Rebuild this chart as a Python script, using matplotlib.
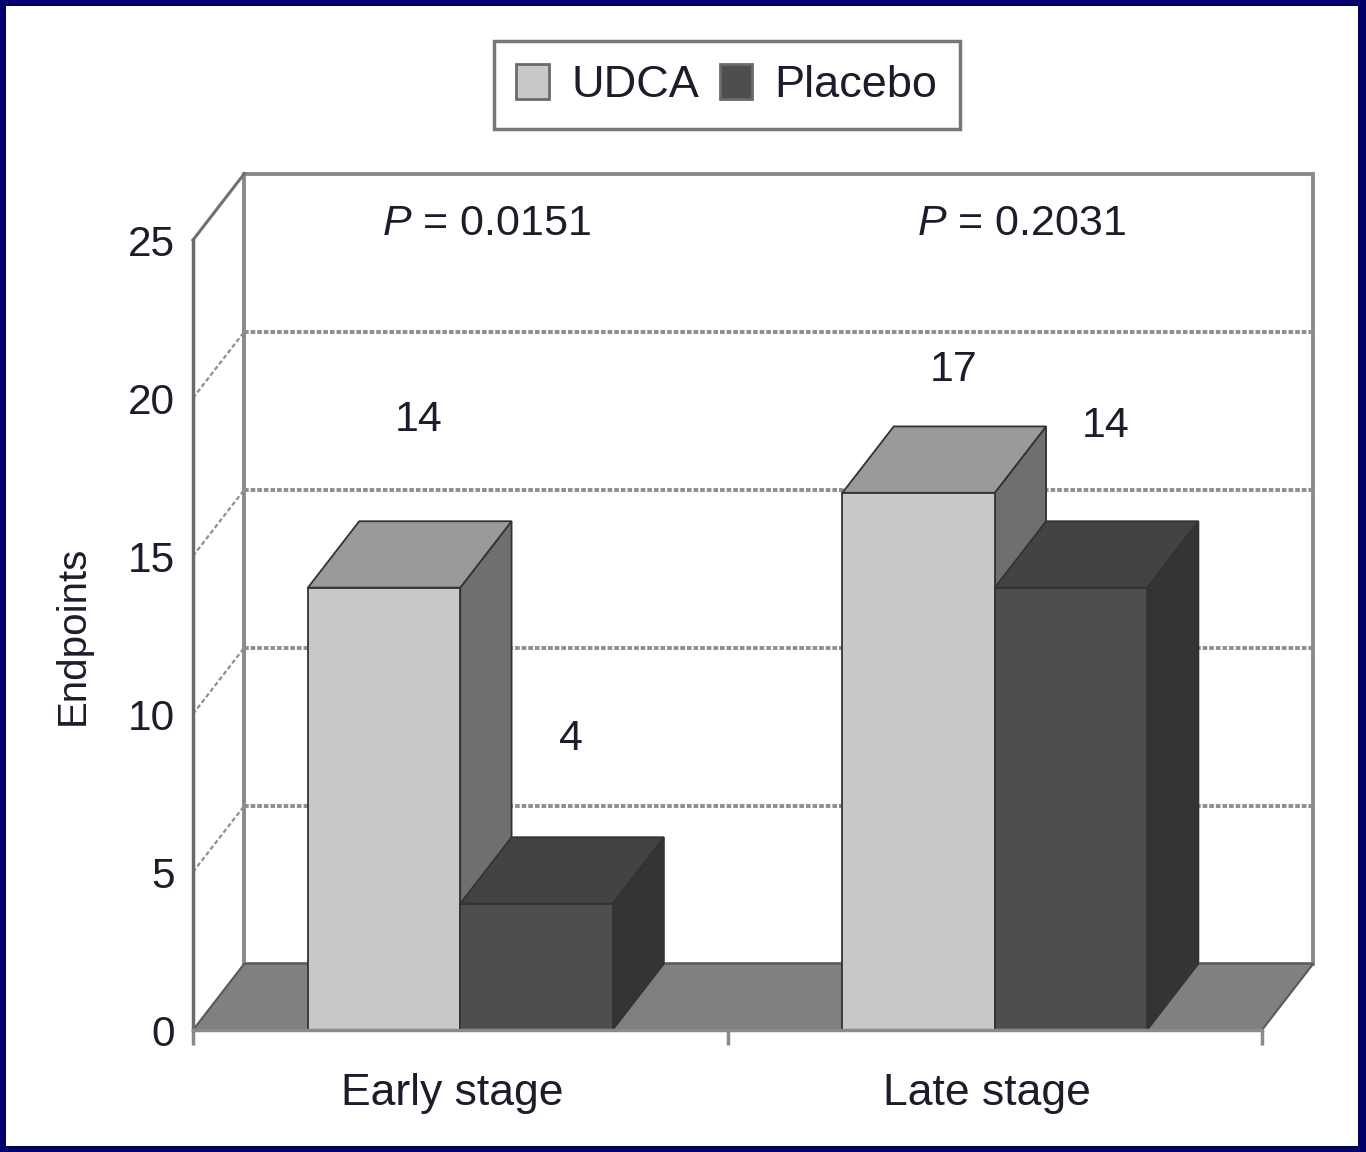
import numpy as np
import matplotlib
matplotlib.use("Agg")
import matplotlib.pyplot as plt
from matplotlib.patches import Polygon, Rectangle, Patch

plt.rcParams['font.family'] = ['Liberation Sans', 'DejaVu Sans']
plt.rcParams['mathtext.fontset'] = 'custom'
plt.rcParams['mathtext.it'] = 'Liberation Sans:italic'
plt.rcParams['mathtext.rm'] = 'Liberation Sans'

# --- data ---
stages = ['Early stage', 'Late stage']
series = ['UDCA', 'Placebo']
udca = [14, 17]
placebo = [4, 14]
p_values = ['0.0151', '0.2031']
y_ticks = [0, 5, 10, 15, 20, 25]

# --- style ---
txt = '#1c1c2a'
face = {'UDCA': ('#c8c8ca', '#9a9a9a', '#6f6f71'),      # front, top, side
        'Placebo': ('#4e4e50', '#434345', '#343436')}
label_dy = [[5.3, 5.2], [3.9, 5.1]]   # label height above each bar
dx, dy = 0.096, 2.1                    # depth offset (data units)
bw = 0.285

fig = plt.figure(figsize=(13.66, 11.52), dpi=100, facecolor='#000066')
fig.patches.append(Rectangle((6 / 1366, 6 / 1152), 1 - 14 / 1366, 1 - 12 / 1152,
                             transform=fig.transFigure, facecolor='white',
                             edgecolor='none', zorder=-10))

ax = fig.add_axes([193 / 1366, 122 / 1152, 1069 / 1366, 790 / 1152])
ax.set_facecolor('none')
ax.set_xlim(0, 2)
ax.set_ylim(0, 25)

# back wall + grid
ax.add_patch(Rectangle((dx, dy), 2, 25, facecolor='white', edgecolor='#8a8a8a',
                       lw=2.8, clip_on=False, zorder=1))
for v in y_ticks[1:-1]:
    ax.plot([dx, 2 + dx], [v + dy, v + dy], color='#8e8e8e', lw=2.8,
            ls=(0, (1.2, 0.5)), clip_on=False, zorder=1.1)
    ax.plot([0, dx], [v, v + dy], color='#8e8e8e', lw=1.6,
            ls=(0, (2, 1.2)), clip_on=False, zorder=1.1)
ax.plot([0, dx], [25, 25 + dy], color='#707070', lw=2.2, clip_on=False, zorder=1.1)

# floor
ax.add_patch(Polygon([(0, 0), (2, 0), (2 + dx, dy), (dx, dy)], closed=True,
                     facecolor='#808080', edgecolor='#5a5a5a', lw=1.5,
                     clip_on=False, zorder=1.2))


def box(x0, v, cols):
    x1 = x0 + bw
    fr, tp, sd = cols
    kw = dict(closed=True, edgecolor='#333333', lw=1.3, clip_on=False, zorder=2)
    ax.add_patch(Polygon([(x1, 0), (x1, v), (x1 + dx, v + dy), (x1 + dx, dy)], facecolor=sd, **kw))
    ax.add_patch(Polygon([(x0, v), (x1, v), (x1 + dx, v + dy), (x0 + dx, v + dy)], facecolor=tp, **kw))
    ax.add_patch(Polygon([(x0, 0), (x1, 0), (x1, v), (x0, v)], facecolor=fr, **kw))


centers = np.arange(len(stages)) + 0.5
for i, c in enumerate(centers):
    vals = [udca[i], placebo[i]]
    for j, name in enumerate(series):
        x0 = c - bw + j * bw
        box(x0, vals[j], face[name])
        ax.text(x0 + bw / 2 + 0.065, vals[j] + label_dy[i][j], str(vals[j]),
                ha='center', va='center', fontsize=31, color=txt)
    ax.text(c + 0.05, 25.5, '$P$ = ' + p_values[i], ha='center', va='center',
            fontsize=31, color=txt)

# axes
for s in ['top', 'right']:
    ax.spines[s].set_visible(False)
ax.spines['left'].set_color('#6a6a6a')
ax.spines['left'].set_linewidth(2.5)
ax.spines['bottom'].set_color('#8a8a8a')
ax.spines['bottom'].set_linewidth(2.5)
ax.spines['left'].set_zorder(3)
ax.spines['bottom'].set_zorder(3)

ax.set_yticks(y_ticks)
ax.tick_params(axis='y', length=0, pad=13, labelsize=30.5, labelcolor=txt)
ax.set_xticks(centers - 0.015)
ax.set_xticklabels(stages)
ax.tick_params(axis='x', which='major', length=0, pad=31, labelsize=32, labelcolor=txt)
ax.set_xticks([0, 1, 2], minor=True)
ax.tick_params(axis='x', which='minor', length=11, width=2.5, color='#8a8a8a')

ax.set_ylabel('Endpoints', fontsize=29, color=txt)
ax.yaxis.set_label_coords(-0.095, 0.5)

handles = [Patch(facecolor=face[n][0], edgecolor='#6a6a6a', lw=2) for n in series]
leg = fig.legend(handles, series, loc='center', bbox_to_anchor=(727 / 1366, 1 - 85 / 1152),
                 ncol=2, fontsize=32.5, frameon=True, fancybox=False, handlelength=0.72,
                 handleheight=0.83, handletextpad=0.5, columnspacing=0.45, borderpad=0.5)
leg.get_frame().set_edgecolor('#555555')
leg.get_frame().set_linewidth(2.5)
for t in leg.get_texts():
    t.set_color(txt)

fig.savefig('out.png', dpi=100, facecolor=fig.get_facecolor())
